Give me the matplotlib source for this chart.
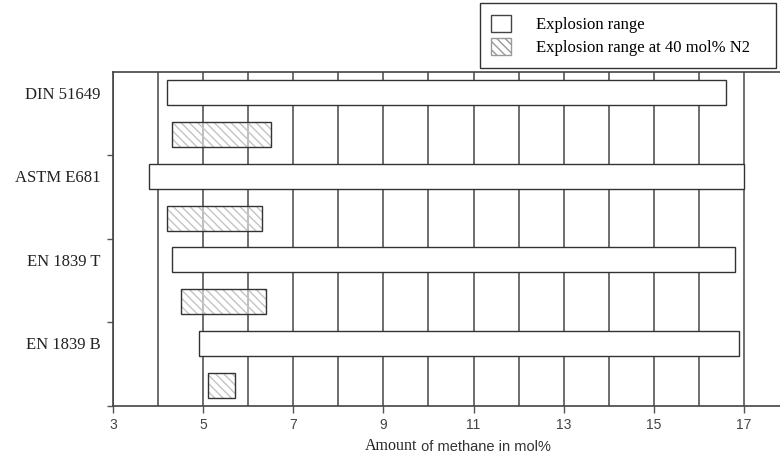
import matplotlib
matplotlib.use("Agg")
from matplotlib import pyplot as plt
from matplotlib.patches import Patch
from matplotlib.ticker import MultipleLocator

# explosion limits of methane (lower, upper) in mol%
standards = ["DIN 51649", "ASTM E681", "EN 1839 T", "EN 1839 B"]
range_low = [4.2, 3.8, 4.3, 4.9]
range_high = [16.6, 17.0, 16.8, 16.9]
n2_low = [4.3, 4.2, 4.5, 5.1]
n2_high = [6.5, 6.3, 6.4, 5.7]

serif = "Liberation Serif"
sans = "Liberation Sans"
edge = "#333333"
hatch_col = "#c4c4c4"

fig = plt.figure(figsize=(7.8, 4.55), dpi=100)
ax = fig.add_axes([0.1449, 0.1077, 0.8551, 0.7341])

pos = list(range(len(standards)))
y_white = [p + 0.25 for p in pos]
y_hatch = [p + 0.75 for p in pos]
w_full = [h - l for l, h in zip(range_low, range_high)]
w_n2 = [h - l for l, h in zip(n2_low, n2_high)]

ax.barh(y_white, w_full, left=range_low, height=0.3,
        color="white", edgecolor=edge, linewidth=1.0, zorder=3)
# hatched bars: hatch layer first, then the dark outline on top
plt.rcParams["hatch.linewidth"] = 1.0
ax.barh(y_hatch, w_n2, left=n2_low, height=0.3,
        facecolor=(1, 1, 1, 0.55), edgecolor=hatch_col, hatch="\\\\\\\\",
        linewidth=0, zorder=3)
ax.barh(y_hatch, w_n2, left=n2_low, height=0.3,
        facecolor="none", edgecolor=edge, linewidth=1.0, zorder=4)

ax.set_xlim(3, 17.8)
ax.set_ylim(len(standards), 0)

ax.xaxis.set_major_locator(MultipleLocator(2))
ax.xaxis.set_minor_locator(MultipleLocator(1))
ax.set_xticks(range(3, 18, 2))
ax.grid(axis="x", which="both", color="#555555", linewidth=1.2)
ax.set_axisbelow(True)
ax.tick_params(axis="x", which="major", length=5, width=1.0, color="#555555",
               labelsize=10, labelcolor="#444444", pad=4)
ax.tick_params(axis="x", which="minor", length=0)
for lab in ax.get_xticklabels():
    lab.set_family(sans)

ax.set_yticks(y_white)
ax.set_yticklabels(standards, family=serif, fontsize=12, color="#222222")
ax.set_yticks(range(1, len(standards) + 1), minor=True)
ax.tick_params(axis="y", which="major", length=0, pad=9)
ax.tick_params(axis="y", which="minor", length=4, width=1.0, color="#555555")

for side in ["left", "bottom", "top"]:
    ax.spines[side].set_color("#444444")
    ax.spines[side].set_linewidth(1.2)
ax.spines["right"].set_visible(False)

# x-axis title in two fonts
t1 = fig.text(0.468, 0.002, "Amount", family=serif, fontsize=11.5,
              color="#222222", va="bottom")
ax.annotate(" of methane in mol%", xy=(1, 0), xycoords=t1, va="bottom",
            family=sans, fontsize=10.5, color="#333333")

handles = [Patch(facecolor="white", edgecolor="#444444", linewidth=1.0),
           Patch(facecolor="white", edgecolor="#999999", hatch="\\\\\\\\",
                 linewidth=1.0)]
leg = fig.legend(handles, ["Explosion range", "Explosion range at 40 mol% N2"],
                 loc="upper left", bbox_to_anchor=(0.615, 0.859, 0.38, 0.134),
                 mode="expand", borderaxespad=0, fancybox=False,
                 edgecolor="#333333", framealpha=1, handlelength=1.2,
                 handleheight=1.2, handletextpad=1.45, labelspacing=0.3,
                 borderpad=0.7, prop={"family": serif, "size": 12})
leg.get_frame().set_linewidth(1.0)

plt.savefig("out.png", dpi=100)
